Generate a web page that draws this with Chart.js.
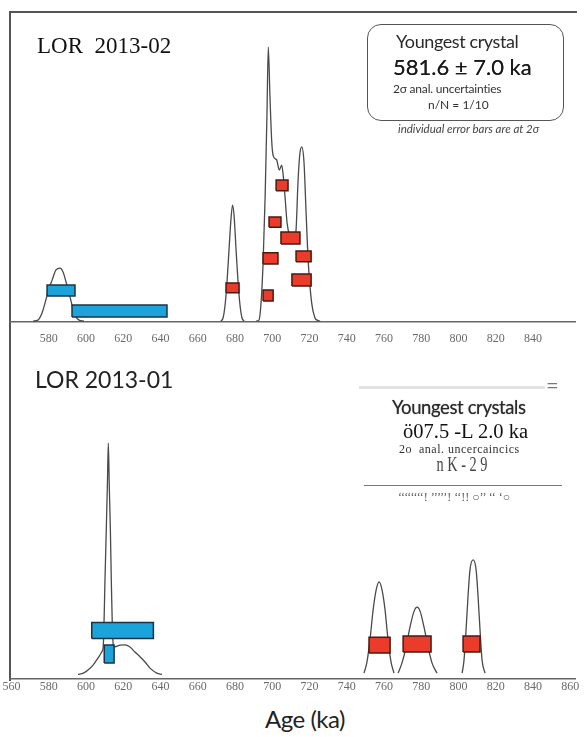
<!DOCTYPE html>
<html>
<head>
<meta charset="utf-8">
<script src="https://cdn.jsdelivr.net/npm/chart.js@4.4.1/dist/chart.umd.min.js"></script>
<style>
  body { margin: 0; background: #fff; width: 584px; height: 737px; overflow: hidden; position: relative; }
  .wrap { position: absolute; }
  .t { position: absolute; line-height: 1; white-space: pre; }
  .frame { position: absolute; left: 9px; top: 11px; width: 566px; height: 668px;
           border-top: 2px solid #555; border-left: 2px solid #555; }
  .box { position: absolute; left: 367px; top: 24px; width: 197px; height: 97px;
         border: 1.5px solid #555; border-radius: 14px; box-sizing: border-box; }
  .lato { font-family: Lato, "Open Sans", sans-serif; }
  .serif { font-family: "Liberation Serif", "DejaVu Serif", serif; }
</style>
</head>
<body>
<div class="frame"></div>
<div class="wrap" style="left:-30px;top:0px"><canvas id="chart02" width="644" height="360"></canvas></div>
<div class="wrap" style="left:-30px;top:350px"><canvas id="chart01" width="644" height="349"></canvas></div>

<!-- LOR 2013-02 labels -->
<div class="t serif" style="left:37px;top:34px;font-size:23px;color:#111">LOR  2013-02</div>
<div class="box"></div>
<div class="t lato" style="left:396px;top:32px;font-size:18px;letter-spacing:-0.4px;color:#2a2a2a">Youngest crystal</div>
<div class="t lato" style="left:393px;top:56px;font-size:22px;color:#1a1a1a;text-shadow:0 0 0.6px #333">581.6 ± 7.0 ka</div>
<div class="t lato" style="left:393px;top:83px;font-size:12px;letter-spacing:-0.2px;color:#333">2σ anal. uncertainties</div>
<div class="t lato" style="left:428px;top:99px;font-size:12px;color:#333">n/N = 1/10</div>
<div class="t lato" style="left:398px;top:123px;font-size:11.5px;font-style:italic;color:#444">individual error bars are at 2σ</div>

<!-- LOR 2013-01 labels -->
<div class="t lato" style="left:35px;top:368px;font-size:23px;color:#222">LOR 2013-01</div>
<div style="position:absolute;left:359px;top:386px;width:186px;height:3px;background:#e2e2e2"></div>
<div class="t lato" style="left:546px;top:374px;font-size:22px;color:#777">=</div>
<div class="t lato" style="left:392px;top:398px;font-size:18.5px;letter-spacing:-0.4px;color:#2a2a2a;text-shadow:0 0 1px #777">Youngest crystals</div>
<div class="t serif" style="left:403px;top:421px;font-size:20.5px;color:#111">ö07.5 -L 2.0 ka</div>
<div class="t serif" style="left:399px;top:443px;font-size:12px;letter-spacing:0.5px;color:#333">2o  anal. uncercaincics</div>
<div class="t serif" style="left:412px;top:453px;width:100px;text-align:center;font-size:22px;color:#444;transform:scaleX(0.65)">n K - 2 9</div>
<div style="position:absolute;left:364px;top:485px;width:198px;height:1px;background:#777"></div>
<div class="t serif" style="left:398px;top:491px;font-size:12px;color:#555">‘‘‘‘‘‘‘‘! ’’’’’! ‘‘!! ○’’ ‘‘ ‘○</div>
<div class="t lato" style="left:245px;top:707px;width:120px;text-align:center;font-size:24px;letter-spacing:-0.5px;color:#222">Age (ka)</div>

<script>
// x tick labels (ka)
const TICKS_TOP = [580, 600, 620, 640, 660, 680, 700, 720, 740, 760, 780, 800, 820, 840];
const TICKS_BOTTOM = [560, 580, 600, 620, 640, 660, 680, 700, 720, 740, 760, 780, 800, 820, 840, 860];
const AGE_MIN = 559.2;
const AGE_MAX = 862.6;

// LOR 2013-02 probability density curves (age ka, relative density %)
const c02aAge  = [571.6, 574.2, 576.4, 578.0, 579.6, 581.8, 583.9, 586.1, 587.7, 589.3, 590.9, 592.5, 594.1, 596.3, 598.9];
const c02aDens = [0.3, 0.6, 2.9, 6.1, 9.7, 13.5, 16.8, 17.4, 16.1, 12.9, 9.4, 5.5, 2.3, 0.6, 0.3];

const c02bAge  = [672.5, 673.6, 674.7, 675.7, 676.8, 677.9, 678.7, 679.5, 680.6, 681.7, 682.7, 683.8, 684.9];
const c02bDens = [0.3, 1.3, 5.5, 12.6, 23.2, 33.5, 37.7, 34.5, 23.2, 12.6, 5.5, 1.3, 0.3];

const c02cAge  = [691.3, 692.9, 694.0, 695.1, 696.2, 697.2, 697.9, 698.8, 699.8, 700.6, 702.4, 703.8, 705.1, 706.0,
                  706.9, 708.0, 709.6, 711.2, 712.8, 713.9, 714.9, 715.9, 717.1, 718.2, 719.4, 721.2, 723.0, 724.1, 725.7];
const c02cDens = [0.3, 0.6, 6.1, 19.0, 40.3, 67.4, 88.7, 72.6, 57.7, 53.5, 52.3, 49.0, 50.6, 46.8,
                  40.3, 31.9, 27.4, 25.5, 29.7, 45.8, 54.5, 56.5, 51.3, 35.2, 19.0, 6.1, 1.3, 0.6, 0.3];

// LOR 2013-02 single-crystal ages: 2σ range and stacking band
const b02Lo    = [579.1, 592.5, 675.2, 695.1, 695.1, 698.3, 702.1, 704.7, 712.8, 710.6];
const b02Hi    = [594.1, 643.5, 682.2, 700.5, 703.1, 704.7, 708.5, 714.9, 720.9, 720.9];
const b02Bot   = [8.4, 1.6, 9.4, 6.8, 18.7, 30.6, 42.3, 25.2, 19.4, 11.6];
const b02Top   = [11.9, 5.5, 12.6, 10.3, 22.3, 33.9, 45.8, 29.0, 22.9, 15.5];
const b02Group = ["young", "young", "old", "old", "old", "old", "old", "old", "old", "old"];

// LOR 2013-01 probability density curves
const c01aAge  = [595.7, 598.6, 601.1, 603.8, 606.5, 608.5, 609.3, 609.7, 610.2, 610.9, 611.5, 612.0, 612.5,
                  613.1, 613.6, 614.1, 614.7, 615.6, 618.3, 621.0, 623.6, 626.3, 629.0, 631.7, 634.4, 638.0, 640.8];
const c01aDens = [1.5, 1.9, 2.9, 4.5, 6.8, 8.8, 10.8, 18.4, 31.9, 48.1, 62.6, 76.1, 62.6,
                  48.1, 31.9, 18.4, 10.8, 10.4, 10.9, 11.0, 10.3, 8.7, 7.2, 5.5, 3.5, 1.9, 1.5];

const c01bAge  = [749.3, 750.9, 752.5, 754.2, 755.8, 757.4, 759.0, 760.6, 762.2, 763.8, 765.4];
const c01bDens = [1.9, 5.5, 12.6, 22.3, 28.7, 31.3, 28.7, 22.3, 12.6, 5.5, 1.9];

const c01cAge  = [767.6, 769.7, 771.9, 774.0, 776.2, 777.8, 779.4, 781.5, 783.7, 785.8, 788.5];
const c01cDens = [1.9, 5.2, 10.3, 16.8, 21.9, 23.2, 21.9, 16.8, 10.3, 5.2, 1.9];

const c01dAge  = [802.0, 803.0, 804.1, 805.2, 806.2, 807.9, 809.5, 810.5, 811.6, 812.7, 814.3];
const c01dDens = [1.9, 6.1, 15.8, 27.1, 35.2, 38.4, 35.2, 27.1, 15.8, 6.1, 1.9];

// LOR 2013-01 single-crystal ages
const b01Lo    = [603.1, 609.8, 752.0, 770.3, 802.5];
const b01Hi    = [636.2, 615.1, 763.3, 785.3, 811.6];
const b01Bot   = [13.1, 5.2, 8.4, 8.7, 8.7];
const b01Top   = [18.2, 11.0, 13.5, 13.9, 13.9];
const b01Group = ["young", "young", "old", "old", "old"];

const BOX_FILL = { young: "#1ca3dc", old: "#ea3b2b" };
const BOX_EDGE = { young: "#1c3442", old: "#4a1a12" };

function curveDataset(ages, dens) {
  return {
    data: ages.map((a, i) => ({ x: a, y: dens[i] })),
    showLine: true,
    borderColor: "#4a4a4a",
    borderWidth: 1.3,
    pointRadius: 0,
    cubicInterpolationMode: "monotone",
    fill: false,
    order: 1,
  };
}

function boxDatasets(lo, hi, bot, top, group) {
  return lo.map((l, i) => ({
    data: [
      { x: l, y: bot[i] }, { x: hi[i], y: bot[i] },
      { x: hi[i], y: top[i] }, { x: l, y: top[i] }, { x: l, y: bot[i] },
    ],
    showLine: true,
    fill: "shape",
    backgroundColor: BOX_FILL[group[i]],
    borderColor: BOX_EDGE[group[i]],
    borderWidth: 1.5,
    borderJoinStyle: "miter",
    pointRadius: 0,
    tension: 0,
    order: 0,
  }));
}

function panelOptions(ticks, tickPad, pad, axisH) {
  return {
    animation: false,
    responsive: false,
    maintainAspectRatio: false,
    events: [],
    layout: { padding: pad },
    plugins: { legend: { display: false }, tooltip: { enabled: false } },
    scales: {
      x: {
        type: "linear",
        min: AGE_MIN,
        max: AGE_MAX,
        grid: { display: false, drawTicks: false },
        border: { display: true, color: "#666", width: 1.5 },
        afterBuildTicks: (s) => { s.ticks = ticks.map((v) => ({ value: v })); },
        afterFit: (s) => { s.height = axisH; },
        ticks: {
          padding: tickPad,
          color: "#6a6a6a",
          autoSkip: false,
          maxRotation: 0,
          font: { family: "Liberation Serif", size: 12 },
        },
      },
      y: { display: false, min: 0, max: 100 },
    },
  };
}

new Chart(document.getElementById("chart02"), {
  type: "scatter",
  data: {
    datasets: [
      ...boxDatasets(b02Lo, b02Hi, b02Bot, b02Top, b02Group),
      curveDataset(c02aAge, c02aDens),
      curveDataset(c02bAge, c02bDens),
      curveDataset(c02cAge, c02cDens),
    ],
  },
  options: panelOptions(TICKS_TOP, 10, { left: 40, right: 39, top: 12, bottom: 8 }, 30),
});

new Chart(document.getElementById("chart01"), {
  type: "scatter",
  data: {
    datasets: [
      ...boxDatasets(b01Lo, b01Hi, b01Bot, b01Top, b01Group),
      curveDataset(c01aAge, c01aDens),
      curveDataset(c01bAge, c01bDens),
      curveDataset(c01cAge, c01cDens),
      curveDataset(c01dAge, c01dDens),
    ],
  },
  options: panelOptions(TICKS_BOTTOM, 1, { left: 40, right: 39, top: 19, bottom: 0 }, 20),
});
</script>
</body>
</html>
